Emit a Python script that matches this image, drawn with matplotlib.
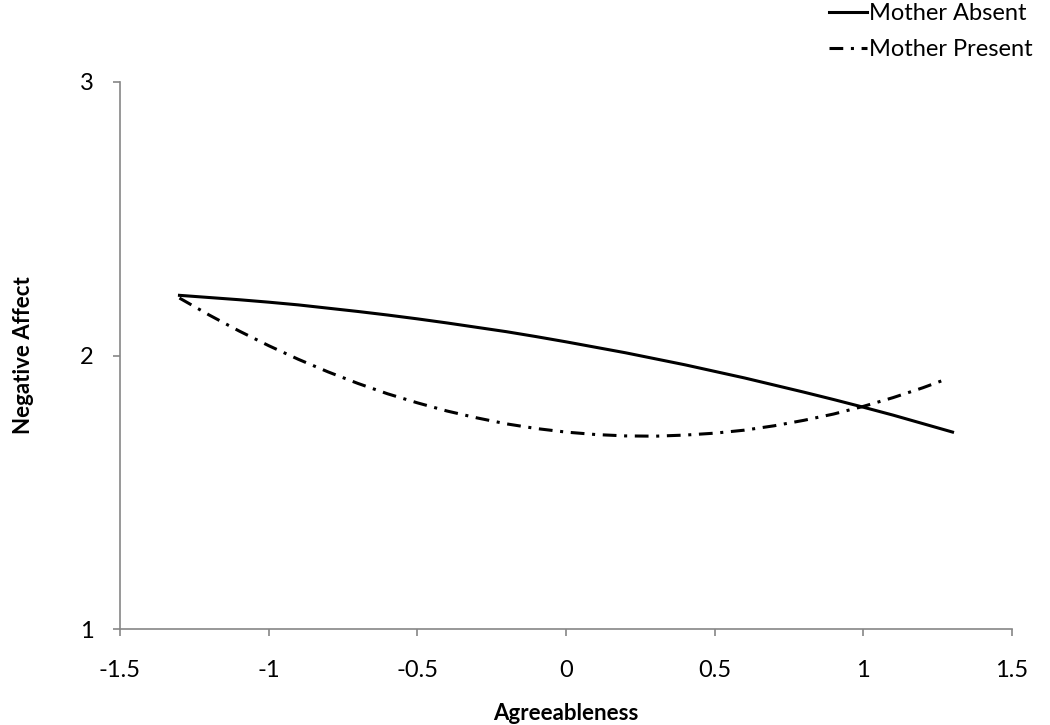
import matplotlib
matplotlib.use("Agg")
import matplotlib.pyplot as plt

plt.rcParams['font.family'] = ['Lato', 'DejaVu Sans']

# values
agree_absent = [-1.3, -1.2, -1.1, -1.0, -0.9, -0.8, -0.7, -0.6, -0.5, -0.4, -0.3, -0.2, -0.1,
                0.0, 0.1, 0.2, 0.3, 0.4, 0.5, 0.6, 0.7, 0.8, 0.9, 1.0, 1.1, 1.2, 1.3]
neg_absent = [2.220, 2.212, 2.204, 2.195, 2.185, 2.173, 2.161, 2.148, 2.134, 2.119, 2.103, 2.087, 2.069,
              2.050, 2.030, 2.010, 1.988, 1.966, 1.942, 1.918, 1.892, 1.866, 1.839, 1.811, 1.782, 1.751, 1.720]

agree_present = [-1.3, -1.2, -1.1, -1.0, -0.9, -0.8, -0.7, -0.6, -0.5, -0.4, -0.3, -0.2, -0.1,
                 0.0, 0.1, 0.2, 0.3, 0.4, 0.5, 0.6, 0.7, 0.8, 0.9, 1.0, 1.1, 1.2, 1.275]
neg_present = [2.210, 2.148, 2.090, 2.036, 1.986, 1.940, 1.898, 1.860, 1.827, 1.797, 1.772, 1.750, 1.733,
               1.720, 1.711, 1.706, 1.705, 1.709, 1.716, 1.727, 1.743, 1.763, 1.786, 1.814, 1.846, 1.882, 1.912]

x_ticks = [-1.5, -1, -0.5, 0, 0.5, 1, 1.5]
x_tick_labels = ['-1.5', '-1', '-0.5', '0', '0.5', '1', '1.5']
y_ticks = [1, 2, 3]

fig = plt.figure(figsize=(10.5, 7.25), dpi=100)
ax = fig.add_axes([120 / 1050, 1 - 629 / 725, 892 / 1050, 547 / 725])

ax.plot(agree_absent, neg_absent, color='black', lw=2.2, label='Mother Absent')
ax.plot(agree_present, neg_present, color='black', lw=2.2,
        linestyle=(0, (4.5, 2.5, 1, 2.5)), label='Mother Present')

ax.set_xlim(-1.5, 1.5)
ax.set_ylim(1, 3)
ax.set_xticks(x_ticks)
ax.set_xticklabels(x_tick_labels)
ax.set_yticks(y_ticks)

for side in ['top', 'right']:
    ax.spines[side].set_visible(False)
for side in ['left', 'bottom']:
    ax.spines[side].set_color('#868686')
    ax.spines[side].set_linewidth(1.2)

ax.tick_params(axis='both', direction='out', length=5, width=1.2, color='#868686',
               labelsize=17, labelcolor='black')
ax.tick_params(axis='x', pad=17)
ax.tick_params(axis='y', pad=14)

ax.set_xlabel('Agreeableness', fontsize=16, fontweight='bold', labelpad=16)
ax.set_ylabel('Negative Affect', fontsize=16, fontweight='bold', labelpad=33)

fig.legend(loc='upper left', bbox_to_anchor=(808 / 1050, 1.025), frameon=False,
           fontsize=17, handlelength=1.6, handletextpad=0.1, labelspacing=0.65)

fig.savefig('out.png', dpi=100)
